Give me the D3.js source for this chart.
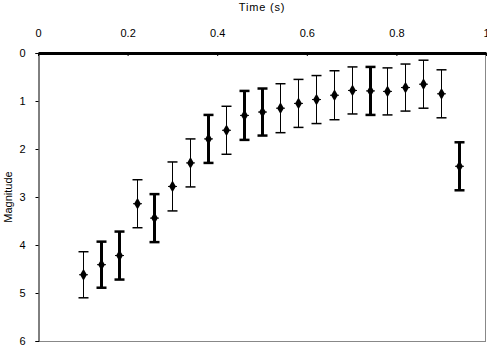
<!DOCTYPE html>
<html>
<head>
<meta charset="UTF-8">
<title></title>
<style type="text/css">
  body { margin: 0; background: #fff; }
  svg { display: block; font-family: "Liberation Sans", Arial, sans-serif; }
</style>
</head>
<body>
<div class="chartBox"></div>
<script src="https://cdn.jsdelivr.net/npm/d3@7/dist/d3.min.js"></script>
<script type="text/javascript">
// data
var times = [0.10, 0.14, 0.18, 0.22, 0.26, 0.30, 0.34, 0.38, 0.42, 0.46, 0.50,
             0.54, 0.58, 0.62, 0.66, 0.70, 0.74, 0.78, 0.82, 0.86, 0.90, 0.94];
var magnitudes = [4.62, 4.41, 4.22, 3.14, 3.44, 2.78, 2.29, 1.79, 1.61, 1.30, 1.23,
                  1.15, 1.05, 0.97, 0.88, 0.78, 0.79, 0.80, 0.72, 0.65, 0.85, 2.36];
var errors = [0.48, 0.48, 0.50, 0.50, 0.50, 0.51, 0.50, 0.50, 0.50, 0.51, 0.49,
              0.51, 0.50, 0.50, 0.51, 0.49, 0.50, 0.49, 0.49, 0.50, 0.50, 0.50];
var xTicks = [0, 0.2, 0.4, 0.6, 0.8, 1];
var yTicks = [0, 1, 2, 3, 4, 5, 6];

// bars drawn heavier in the picture
var heavy = [1, 2, 4, 7, 9, 10, 16, 21];

var width = 487, height = 347;
var mLeft = 38, mRight = 486, mTop = 53, mBottom = 341;

var svg = d3.select(".chartBox").append("svg")
  .attr("width", width)
  .attr("height", height);

var x = d3.scaleLinear().domain([0, 1]).range([mLeft, mRight]);
var y = d3.scaleLinear().domain([0, 6]).range([mTop, mBottom]);

// grey frame right + bottom
svg.append("line").attr("x1", mRight - 0.5).attr("x2", mRight - 0.5)
  .attr("y1", mTop).attr("y2", mBottom).attr("stroke", "#888");
svg.append("line").attr("x1", mLeft).attr("x2", mRight)
  .attr("y1", mBottom + 0.5).attr("y2", mBottom + 0.5).attr("stroke", "#888");

// top axis
var xAxis = d3.axisTop(x).tickValues(xTicks).tickFormat(d3.format("")).tickSizeOuter(0).tickSizeInner(-3);
var gx = svg.append("g").attr("transform", "translate(0," + mTop + ")").call(xAxis);
gx.select(".domain").attr("stroke-width", 3);
gx.selectAll("text").attr("y", -16).attr("font-size", 11).attr("fill", "#000")
  .attr("font-family", "Liberation Sans, Arial, sans-serif");

// left axis
var yAxis = d3.axisLeft(y).tickValues(yTicks).tickFormat(d3.format("d")).tickSizeOuter(0).tickSize(3);
var gy = svg.append("g").attr("transform", "translate(" + (mLeft + 0.5) + ",0)").call(yAxis);
gy.selectAll("text").attr("x", -13).attr("font-size", 11).attr("fill", "#000")
  .attr("font-family", "Liberation Sans, Arial, sans-serif");

// titles
svg.append("text").attr("x", (mLeft + mRight) / 2).attr("y", 11)
  .attr("text-anchor", "middle").attr("font-size", 11).attr("letter-spacing", 0.8)
  .text("Time (s)");
svg.append("text")
  .attr("transform", "translate(12," + ((mTop + mBottom) / 2) + ") rotate(-90)")
  .attr("text-anchor", "middle").attr("font-size", 11)
  .text("Magnitude");

var pts = times.map(function(t, i) {
  return { t: t, m: magnitudes[i], e: errors[i], w: heavy.indexOf(i) >= 0 ? 3 : 1 };
});

var g = svg.append("g").attr("stroke", "#000");
var eb = g.selectAll("g.err").data(pts).enter().append("g").attr("class", "err");
eb.append("line")
  .attr("x1", function(d) { return Math.round(x(d.t)) + 0.5; })
  .attr("x2", function(d) { return Math.round(x(d.t)) + 0.5; })
  .attr("y1", function(d) { return y(d.m - d.e); })
  .attr("y2", function(d) { return y(d.m + d.e); })
  .attr("stroke-width", function(d) { return d.w; });
[-1, 1].forEach(function(s) {
  eb.append("line")
    .attr("x1", function(d) { return Math.round(x(d.t)) - 4.5; })
    .attr("x2", function(d) { return Math.round(x(d.t)) + 5.5; })
    .attr("y1", function(d) { return y(d.m + s * d.e); })
    .attr("y2", function(d) { return y(d.m + s * d.e); })
    .attr("stroke-width", function(d) { return d.w === 3 ? 2.5 : 1.5; });
});
// marker dash
eb.append("line")
  .attr("x1", function(d) { return Math.round(x(d.t)) - 4; })
  .attr("x2", function(d) { return Math.round(x(d.t)) + 5; })
  .attr("y1", function(d) { return y(d.m); })
  .attr("y2", function(d) { return y(d.m); })
  .attr("stroke-width", 1);
eb.append("path")
  .attr("d", d3.symbol().type(d3.symbolDiamond).size(40))
  .attr("transform", function(d) { return "translate(" + (Math.round(x(d.t)) + 0.5) + "," + y(d.m) + ")"; })
  .attr("fill", "#000").attr("stroke", "none");
</script>
</body>
</html>
